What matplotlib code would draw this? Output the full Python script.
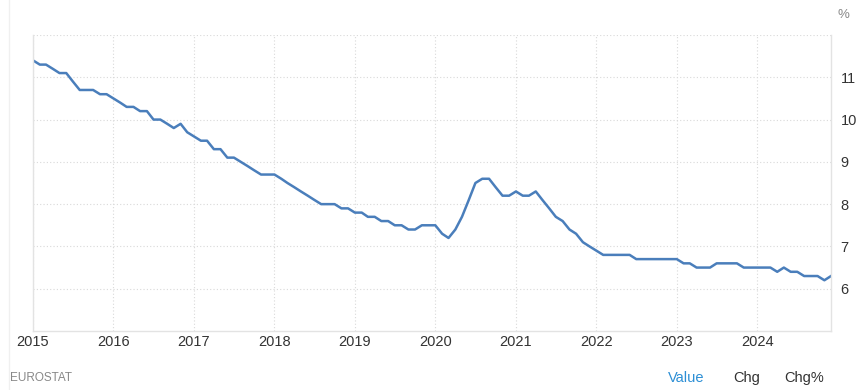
import matplotlib
import matplotlib.dates as mdates
import matplotlib.pyplot as plt
import pandas as pd
from matplotlib.lines import Line2D

matplotlib.use("Agg")

# --- Data: euro area unemployment rate, monthly (%) ---
months = pd.date_range("2015-01-01", "2024-12-01", freq="MS")
rate_2015 = [11.4, 11.3, 11.3, 11.2, 11.1, 11.1, 10.9, 10.7, 10.7, 10.7, 10.6, 10.6]
rate_2016 = [10.5, 10.4, 10.3, 10.3, 10.2, 10.2, 10.0, 10.0, 9.9, 9.8, 9.9, 9.7]
rate_2017 = [9.6, 9.5, 9.5, 9.3, 9.3, 9.1, 9.1, 9.0, 8.9, 8.8, 8.7, 8.7]
rate_2018 = [8.7, 8.6, 8.5, 8.4, 8.3, 8.2, 8.1, 8.0, 8.0, 8.0, 7.9, 7.9]
rate_2019 = [7.8, 7.8, 7.7, 7.7, 7.6, 7.6, 7.5, 7.5, 7.4, 7.4, 7.5, 7.5]
rate_2020 = [7.5, 7.3, 7.2, 7.4, 7.7, 8.1, 8.5, 8.6, 8.6, 8.4, 8.2, 8.2]
rate_2021 = [8.3, 8.2, 8.2, 8.3, 8.1, 7.9, 7.7, 7.6, 7.4, 7.3, 7.1, 7.0]
rate_2022 = [6.9, 6.8, 6.8, 6.8, 6.8, 6.8, 6.7, 6.7, 6.7, 6.7, 6.7, 6.7]
rate_2023 = [6.7, 6.6, 6.6, 6.5, 6.5, 6.5, 6.6, 6.6, 6.6, 6.6, 6.5, 6.5]
rate_2024 = [6.5, 6.5, 6.5, 6.4, 6.5, 6.4, 6.4, 6.3, 6.3, 6.3, 6.2, 6.3]
rates = (rate_2015 + rate_2016 + rate_2017 + rate_2018 + rate_2019
         + rate_2020 + rate_2021 + rate_2022 + rate_2023 + rate_2024)

year_ticks = pd.date_range("2015-01-01", "2024-01-01", freq="YS")
value_ticks = [6, 7, 8, 9, 10, 11]

# --- Style ---
font = "Liberation Sans"
line_color = "#4a7ebb"
grid_color = "#d9d9d9"
frame_color = "#e3e3e3"
label_color = "#333333"

fig = plt.figure(figsize=(8.65, 3.9), dpi=100)
fig.patch.set_facecolor("white")
ax = fig.add_axes([33 / 865, 59 / 390, 798 / 865, 296 / 390])

ax.plot(months, rates, color=line_color, linewidth=1.8, solid_joinstyle="round")

ax.set_xlim(months[0], months[-1])
ax.set_ylim(5, 12)

ax.set_xticks(year_ticks)
ax.xaxis.set_major_formatter(mdates.DateFormatter("%Y"))
ax.set_yticks(value_ticks)
ax.yaxis.tick_right()

ax.tick_params(axis="both", length=0, labelsize=10.5, labelcolor=label_color)
ax.tick_params(axis="x", pad=3)
ax.tick_params(axis="y", pad=7)
for lbl in ax.get_xticklabels() + ax.get_yticklabels():
    lbl.set_fontfamily(font)
for lbl in ax.get_yticklabels():
    lbl.set_horizontalalignment("left")

# dotted grid, incl. top line at 12
ax.grid(True, color=grid_color, linestyle=(0, (1, 2)), linewidth=0.8)
ax.axhline(12, color=grid_color, linestyle=(0, (1, 2)), linewidth=0.8)

ax.spines["top"].set_visible(False)
for side in ["left", "right", "bottom"]:
    ax.spines[side].set_color(frame_color)
    ax.spines[side].set_linewidth(1.0)

# card border on the left
fig.add_artist(Line2D([8.5 / 865, 8.5 / 865], [0, 1], color="#f0f0f0", linewidth=1.0))

# unit and footer texts
fig.text(838 / 865, 1 - 15 / 390, "%", fontsize=9.5, color="#888888",
         family=font, ha="left", va="center")
fig.text(10 / 865, 1 - 378 / 390, "EUROSTAT", fontsize=8.5, color="#888888",
         family=font, ha="left", va="center")
fig.text(668 / 865, 1 - 378 / 390, "Value", fontsize=10.5, color="#2d8fd5",
         family=font, ha="left", va="center")
fig.text(733 / 865, 1 - 378 / 390, "Chg", fontsize=10.5, color=label_color,
         family=font, ha="left", va="center")
fig.text(784 / 865, 1 - 378 / 390, "Chg%", fontsize=10.5, color=label_color,
         family=font, ha="left", va="center")

fig.savefig("out.png", dpi=100)
plt.close()
